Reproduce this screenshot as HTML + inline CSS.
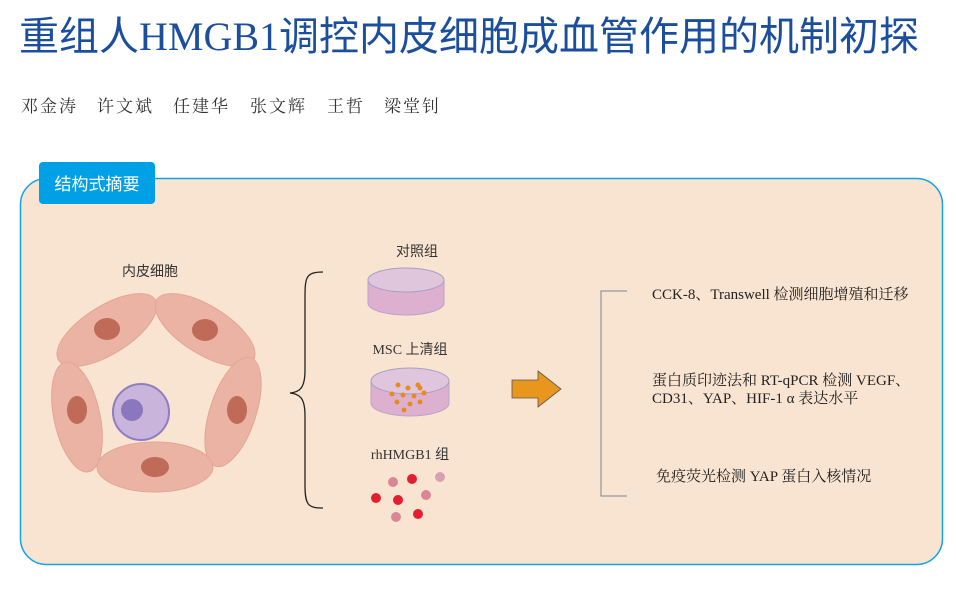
<!DOCTYPE html>
<html><head><meta charset="utf-8"><style>
body{margin:0;width:956px;height:590px;background:#fff;overflow:hidden;position:relative;font-family:"Liberation Serif","Noto Serif CJK SC",serif}
.t{position:absolute;white-space:nowrap}
.a{position:absolute;top:92px;font-size:17px;color:#333;letter-spacing:2px;font-family:'Noto Serif CJK SC',serif;white-space:nowrap}
</style></head><body>
<div class="t" style="left:19px;top:12px;font-size:40px;color:#1b4f9e;font-family:'Liberation Serif','Noto Sans CJK SC',sans-serif;line-height:50px">重组人HMGB1调控内皮细胞成血管作用的机制初探</div>
<div class="a" style="left:21px">邓金涛</div>
<div class="a" style="left:97px">许文斌</div>
<div class="a" style="left:173px">任建华</div>
<div class="a" style="left:250px">张文辉</div>
<div class="a" style="left:327px">王哲</div>
<div class="a" style="left:384px">梁堂钊</div>
<svg width="956" height="590" style="position:absolute;left:0;top:0">
<rect x="20.5" y="178.5" width="922" height="386" rx="26" fill="#f9e4d1" stroke="#12a3e6" stroke-width="1.5"/>
<rect x="39" y="162" width="116" height="42" rx="4" fill="#00a0e6"/>
<text x="97" y="190" font-size="17" fill="#fff" text-anchor="middle" font-family="Noto Sans CJK SC,sans-serif">结构式摘要</text>
<text x="150" y="276" font-size="14" fill="#333" text-anchor="middle" font-family="Noto Sans CJK SC,sans-serif">内皮细胞</text>
<g fill="#eab3a4" stroke="#e5a595" stroke-width="1">
<ellipse cx="107" cy="330" rx="57" ry="24" transform="rotate(-32 107 330)"/>
<ellipse cx="205" cy="330" rx="57" ry="24" transform="rotate(32 205 330)"/>
<ellipse cx="77" cy="417" rx="56" ry="23" transform="rotate(78 77 417)"/>
<ellipse cx="233" cy="412" rx="57" ry="23" transform="rotate(-72 233 412)"/>
<ellipse cx="155" cy="467" rx="58" ry="25"/>
</g>
<g fill="#c06a58">
<ellipse cx="107" cy="329" rx="13" ry="11"/>
<ellipse cx="205" cy="330" rx="13" ry="11"/>
<ellipse cx="77" cy="410" rx="10" ry="14"/>
<ellipse cx="237" cy="410" rx="10" ry="14"/>
<ellipse cx="155" cy="467" rx="14" ry="10"/>
</g>
<circle cx="141" cy="412" r="28" fill="#c9b4dc" stroke="#8e7dc0" stroke-width="2"/>
<circle cx="132" cy="410" r="11" fill="#8b76c0"/>
<text x="417" y="256" font-size="14" fill="#333" text-anchor="middle" font-family="Noto Sans CJK SC,sans-serif">对照组</text>
<path d="M368 280 v23 a38 12 0 0 0 76 0 v-23" fill="#ddb0d0" stroke="#b9a3cc"/>
<ellipse cx="406" cy="280" rx="38" ry="12" fill="#e0c6dc" stroke="#a89fc6"/>
<text x="410" y="354" font-size="14" fill="#333" text-anchor="middle" font-family="'Liberation Serif','Noto Sans CJK SC',sans-serif">MSC 上清组</text>
<path d="M371 381 v22 a39 13 0 0 0 78 0 v-22" fill="#ddb0d0" stroke="#b9a3cc"/>
<ellipse cx="410" cy="381" rx="39" ry="13" fill="#e0c6dc" stroke="#a89fc6"/>
<g fill="#e88a1e"><circle cx="398" cy="385" r="2.5"/><circle cx="408" cy="388" r="2.5"/><circle cx="418" cy="385" r="2.5"/><circle cx="403" cy="395" r="2.5"/><circle cx="414" cy="396" r="2.5"/><circle cx="424" cy="393" r="2.5"/><circle cx="397" cy="402" r="2.5"/><circle cx="410" cy="404" r="2.5"/><circle cx="420" cy="402" r="2.5"/><circle cx="404" cy="410" r="2.5"/><circle cx="420" cy="388" r="2.5"/><circle cx="392" cy="394" r="2.5"/></g>
<text x="410" y="459" font-size="14" fill="#333" text-anchor="middle" font-family="'Liberation Serif','Noto Sans CJK SC',sans-serif">rhHMGB1 组</text>
<g><circle cx="393" cy="482" r="5" fill="#d98796"/><circle cx="412" cy="479" r="5" fill="#e0202e"/><circle cx="440" cy="477" r="5" fill="#d9a0b0"/><circle cx="376" cy="498" r="5" fill="#e0202e"/><circle cx="398" cy="500" r="5" fill="#e0202e"/><circle cx="426" cy="495" r="5" fill="#d98796"/><circle cx="396" cy="517" r="5" fill="#d98796"/><circle cx="418" cy="514" r="5" fill="#e0202e"/></g>
<path d="M323 272 C305 272 305 278 305 300 L305 370 C305 388 300 392 290 393 C300 394 305 398 305 416 L305 485 C305 505 308 508 323 508" fill="none" stroke="#222" stroke-width="1.3"/>
<path d="M512 380 h26 v-9 l23 18 l-23 18 v-9 h-26 z" fill="#e8961e" stroke="#555" stroke-width="0.8"/>
<path d="M627 291 H601 V496 H627" fill="none" stroke="#7a8599" stroke-width="1"/>
<g font-size="15" fill="#222" font-family="'Liberation Serif','Noto Serif CJK SC',serif">
<text x="652" y="299">CCK-8、Transwell 检测细胞增殖和迁移</text>
<text x="652" y="385">蛋白质印迹法和 RT-qPCR 检测 VEGF、</text>
<text x="652" y="403">CD31、YAP、HIF-1 α 表达水平</text>
<text x="656" y="481">免疫荧光检测 YAP 蛋白入核情况</text>
</g>
</svg>
</body></html>
